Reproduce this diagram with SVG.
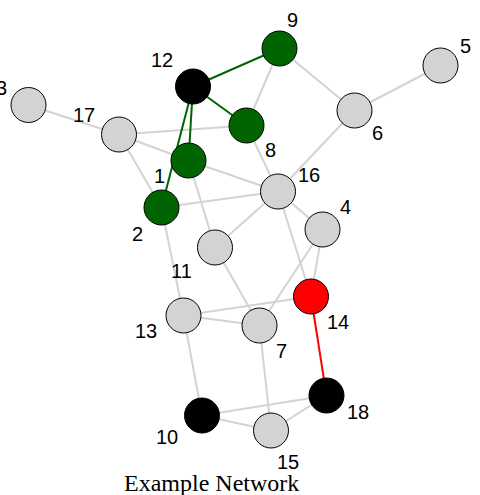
<svg xmlns="http://www.w3.org/2000/svg" width="480" height="495" viewBox="0 0 480 495">
<style>
.e{stroke:#d3d3d3;stroke-width:2;fill:none}
.g{stroke:#006400;stroke-width:2}
.r{stroke:#ff0000;stroke-width:2}
.n{stroke:#000;stroke-width:1}
.grey{fill:#d3d3d3}
.green{fill:#006400}
.black{fill:#000}
.red{fill:#ff0000}
.l{font-family:"Liberation Sans",Arial,sans-serif;font-size:20px;fill:#000}
.t{font-family:"Liberation Serif","Times New Roman",serif;font-size:24px;fill:#000}
</style>
<rect width="480" height="495" fill="#fff"/>
<g id="connectors">
<line class="e" x1="28.5" y1="105" x2="119" y2="134.5"/>
<line class="e" x1="119" y1="134.5" x2="246.5" y2="125.5"/>
<line class="e" x1="119" y1="134.5" x2="188.5" y2="160.5"/>
<line class="e" x1="119" y1="134.5" x2="161.5" y2="207.5"/>
<line class="e" x1="279.5" y1="48.5" x2="246.5" y2="125.5"/>
<line class="e" x1="279.5" y1="48.5" x2="354.5" y2="110.5"/>
<line class="e" x1="354.5" y1="110.5" x2="440.5" y2="65.5"/>
<line class="e" x1="354.5" y1="110.5" x2="278" y2="191.5"/>
<line class="e" x1="246.5" y1="125.5" x2="278" y2="191.5"/>
<line class="e" x1="188.5" y1="160.5" x2="278" y2="191.5"/>
<line class="e" x1="161.5" y1="207.5" x2="278" y2="191.5"/>
<line class="e" x1="188.5" y1="160.5" x2="215" y2="247.5"/>
<line class="e" x1="215" y1="247.5" x2="278" y2="191.5"/>
<line class="e" x1="215" y1="247.5" x2="259.5" y2="325.5"/>
<line class="e" x1="278" y1="191.5" x2="322.5" y2="229.5"/>
<line class="e" x1="278" y1="191.5" x2="311" y2="296.5"/>
<line class="e" x1="322.5" y1="229.5" x2="311" y2="296.5"/>
<line class="e" x1="322.5" y1="229.5" x2="259.5" y2="325.5"/>
<line class="e" x1="161.5" y1="207.5" x2="183.5" y2="315.5"/>
<line class="e" x1="183.5" y1="315.5" x2="311" y2="296.5"/>
<line class="e" x1="183.5" y1="315.5" x2="259.5" y2="325.5"/>
<line class="e" x1="183.5" y1="315.5" x2="202" y2="415.5"/>
<line class="e" x1="259.5" y1="325.5" x2="271" y2="430.5"/>
<line class="e" x1="202" y1="415.5" x2="271" y2="430.5"/>
<line class="e" x1="202" y1="415.5" x2="326.5" y2="395.5"/>
<line class="e" x1="271" y1="430.5" x2="326.5" y2="395.5"/>
<line class="g" x1="193" y1="86.5" x2="279.5" y2="48.5"/>
<line class="g" x1="193" y1="86.5" x2="246.5" y2="125.5"/>
<line class="g" x1="193" y1="86.5" x2="188.5" y2="160.5"/>
<line class="g" x1="193" y1="86.5" x2="161.5" y2="207.5"/>
<line class="r" x1="311" y1="296.5" x2="326.5" y2="395.5"/>
</g>
<g id="node3"><circle class="n grey" cx="28.5" cy="105" r="17.5"/><text class="l" x="-4" y="95">3</text></g>
<g id="node17"><circle class="n grey" cx="119" cy="134.5" r="17.5"/><text class="l" x="73" y="121.5">17</text></g>
<g id="node12"><circle class="n black" cx="193" cy="86.5" r="17.5"/><text class="l" x="151" y="67">12</text></g>
<g id="node9"><circle class="n green" cx="279.5" cy="48.5" r="17.5"/><text class="l" x="287" y="27">9</text></g>
<g id="node8"><circle class="n green" cx="246.5" cy="125.5" r="17.5"/><text class="l" x="265" y="157">8</text></g>
<g id="node5"><circle class="n grey" cx="440.5" cy="65.5" r="17.5"/><text class="l" x="460" y="53">5</text></g>
<g id="node6"><circle class="n grey" cx="354.5" cy="110.5" r="17.5"/><text class="l" x="372" y="140">6</text></g>
<g id="node1"><circle class="n green" cx="188.5" cy="160.5" r="17.5"/><text class="l" x="154" y="183">1</text></g>
<g id="node2"><circle class="n green" cx="161.5" cy="207.5" r="17.5"/><text class="l" x="132" y="241">2</text></g>
<g id="node16"><circle class="n grey" cx="278" cy="191.5" r="17.5"/><text class="l" x="298" y="182">16</text></g>
<g id="node4"><circle class="n grey" cx="322.5" cy="229.5" r="17.5"/><text class="l" x="340" y="214">4</text></g>
<g id="node11"><circle class="n grey" cx="215" cy="247.5" r="17.5"/><text class="l" x="171" y="278">11</text></g>
<g id="node14"><circle class="n red" cx="311" cy="296.5" r="17.5"/><text class="l" x="327" y="329">14</text></g>
<g id="node13"><circle class="n grey" cx="183.5" cy="315.5" r="17.5"/><text class="l" x="135" y="338">13</text></g>
<g id="node7"><circle class="n grey" cx="259.5" cy="325.5" r="17.5"/><text class="l" x="276" y="358">7</text></g>
<g id="node18"><circle class="n black" cx="326.5" cy="395.5" r="17.5"/><text class="l" x="347" y="419">18</text></g>
<g id="node15"><circle class="n grey" cx="271" cy="430.5" r="17.5"/><text class="l" x="277" y="469">15</text></g>
<g id="node10"><circle class="n black" cx="202" cy="415.5" r="17.5"/><text class="l" x="156" y="444">10</text></g>
<text class="t" x="124" y="491">Example Network</text>
</svg>
